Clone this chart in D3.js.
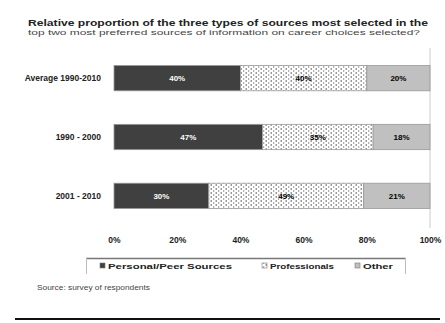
<!DOCTYPE html>
<html>
<head>
<meta charset="utf-8">
<script src="https://cdn.jsdelivr.net/npm/d3@7"></script>
<style>
  body { margin: 0; background: #fff; }
  svg { display: block; font-family: "Liberation Sans", Arial, sans-serif; }
</style>
</head>
<body>
<div id="app"></div>
<script>
// data
const categories = ['Average 1990-2010', '1990 - 2000', '2001 - 2010'];
const seriesNames = ['Personal/Peer Sources', 'Professionals', 'Other'];
const peerValues = [40, 47, 30];
const proValues = [40, 35, 49];
const otherValues = [20, 18, 21];
const tickLabels = ['0%', '20%', '40%', '60%', '80%', '100%'];
const titleLines = [
  'Relative proportion of the three types of sources most selected in the',
  'top two most preferred sources of information on career choices selected?'
];
const sourceText = 'Source: survey of respondents';

const W = 445, H = 323;

const svg = d3.select('#app').append('svg')
  .attr('width', W)
  .attr('height', H);

// dotted pattern
const defs = svg.append('defs');
const pat = defs.append('pattern')
  .attr('id', 'dots')
  .attr('patternUnits', 'userSpaceOnUse')
  .attr('width', 5)
  .attr('height', 4);
pat.append('rect').attr('width', 5).attr('height', 4).attr('fill', '#fff');
pat.append('circle').attr('cx', 1.2).attr('cy', 1).attr('r', 0.75).attr('fill', '#444');
pat.append('circle').attr('cx', 3.7).attr('cy', 3).attr('r', 0.7).attr('fill', '#777');

const fills = ['#404040', 'url(#dots)', '#c0c0c0'];
const labelColors = ['#fff', '#000', '#000'];

// title
svg.append('text')
  .attr('x', 28).attr('y', 26)
  .attr('font-size', 8.4).attr('font-weight', 'bold').attr('fill', '#222')
  .attr('textLength', 400).attr('lengthAdjust', 'spacingAndGlyphs')
  .text(titleLines[0]);
svg.append('text')
  .attr('x', 28).attr('y', 35)
  .attr('font-size', 7.4).attr('fill', '#444')
  .attr('textLength', 392).attr('lengthAdjust', 'spacingAndGlyphs')
  .text(titleLines[1]);

const x = d3.scaleLinear().domain([0, 100]).range([114, 430]);
const y = d3.scaleBand().domain(categories).range([49, 225]).paddingInner(0.57).paddingOuter(0.28);

// right border
svg.append('line')
  .attr('x1', 430).attr('x2', 430).attr('y1', 48).attr('y2', 228)
  .attr('stroke', '#ccc').attr('stroke-width', 1);

const rows = categories.map((c, i) => {
  const vals = [peerValues[i], proValues[i], otherValues[i]];
  let acc = 0;
  return vals.map((v, j) => {
    const d = { cat: c, s: j, v: v, x0: acc, x1: acc + v };
    acc += v;
    return d;
  });
}).flat();

const g = svg.append('g');
g.selectAll('rect.bar').data(rows).enter().append('rect')
  .attr('class', 'bar')
  .attr('x', d => x(d.x0))
  .attr('y', d => y(d.cat))
  .attr('width', d => x(d.x1) - x(d.x0))
  .attr('height', y.bandwidth())
  .attr('fill', d => fills[d.s])
  .attr('stroke', '#999')
  .attr('stroke-width', 0.8);

g.selectAll('text.val').data(rows).enter().append('text')
  .attr('class', 'val')
  .attr('x', d => x((d.x0 + d.x1) / 2))
  .attr('y', d => y(d.cat) + y.bandwidth() / 2 + 3)
  .attr('text-anchor', 'middle')
  .attr('font-size', 8).attr('font-weight', 'bold')
  .attr('fill', d => labelColors[d.s])
  .text(d => d.v + '%');

// category labels
svg.append('g').selectAll('text').data(categories).enter().append('text')
  .attr('x', 101)
  .attr('y', d => y(d) + y.bandwidth() / 2 + 3)
  .attr('text-anchor', 'end')
  .attr('font-size', 8.5).attr('font-weight', 'bold').attr('fill', '#222')
  .text(d => d);

// x axis labels
const xAxis = d3.axisBottom(x)
  .tickValues([0, 20, 40, 60, 80, 100])
  .tickFormat((d, i) => tickLabels[i])
  .tickSize(0);
const xg = svg.append('g').attr('transform', 'translate(0,234)').call(xAxis);
xg.select('.domain').remove();
xg.selectAll('text').attr('font-size', 8.5).attr('font-weight', 'bold').attr('fill', '#222')
  .attr('font-family', '"Liberation Sans", Arial, sans-serif');

// legend
const lg = svg.append('g');
lg.append('line').attr('x1', 86).attr('x2', 406).attr('y1', 258.5).attr('y2', 258.5)
  .attr('stroke', '#777').attr('stroke-width', 1.5);
lg.append('line').attr('x1', 86.5).attr('x2', 86.5).attr('y1', 258).attr('y2', 274)
  .attr('stroke', '#bbb');
lg.append('line').attr('x1', 405.5).attr('x2', 405.5).attr('y1', 258).attr('y2', 274)
  .attr('stroke', '#bbb');
const legX = [100, 262, 355];
const legW = [124, 64, 30];
seriesNames.forEach((n, i) => {
  lg.append('rect').attr('x', legX[i]).attr('y', 263).attr('width', 5).attr('height', 5)
    .attr('fill', fills[i]).attr('stroke', '#777').attr('stroke-width', 0.6);
  lg.append('text').attr('x', legX[i] + 8).attr('y', 268.5)
    .attr('font-size', 7.6).attr('font-weight', 'bold').attr('fill', '#222')
    .attr('textLength', legW[i]).attr('lengthAdjust', 'spacingAndGlyphs')
    .text(n);
});

// source
svg.append('text').attr('x', 37).attr('y', 290)
  .attr('font-size', 6.5).attr('fill', '#444')
  .attr('textLength', 113).attr('lengthAdjust', 'spacingAndGlyphs')
  .text(sourceText);

// bottom rule
svg.append('line').attr('x1', 15).attr('x2', 440).attr('y1', 319).attr('y2', 319)
  .attr('stroke', '#111').attr('stroke-width', 2);
</script>
</body>
</html>
